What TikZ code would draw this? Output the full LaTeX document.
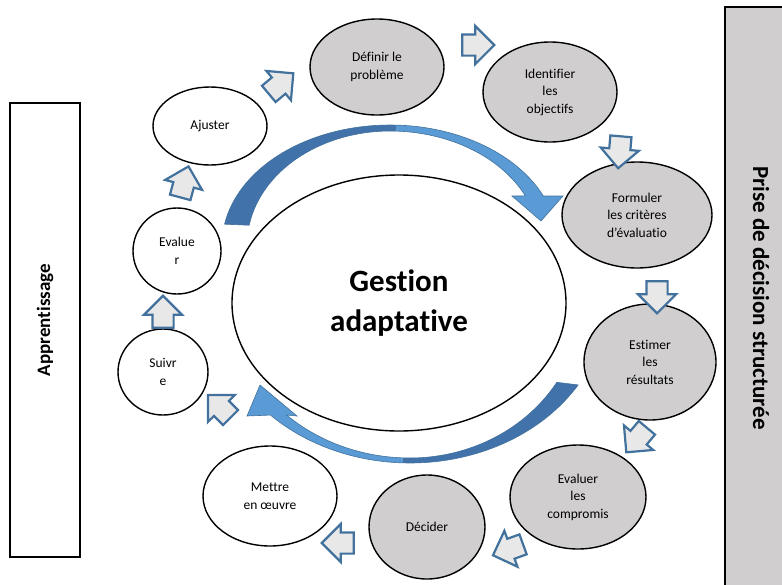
\documentclass[tikz,border=0pt]{standalone}
\usepackage{fontspec}
\setmainfont{Carlito}[Ligatures=CommonOff]
\usetikzlibrary{shapes.geometric,shapes.arrows}

\definecolor{grisclair}{RGB}{208,206,206}
\definecolor{grisfleche}{RGB}{232,232,232}
\definecolor{bleubord}{RGB}{65,113,156}
\definecolor{bleufonce}{RGB}{66,114,170}
\definecolor{bleuclair}{RGB}{91,155,213}

\tikzset{
  etape/.style={ellipse, draw=black, line width=1.4pt, fill=white, inner sep=0pt,
    align=center, font=\fontsize{13.5}{17.5}\selectfont},
  etapegrise/.style={etape, fill=grisclair},
  fleche/.style={single arrow, draw=bleubord, line width=2.2pt, fill=grisfleche,
    minimum height=32pt, inner xsep=0pt, inner ysep=9.5pt, single arrow head extend=8.5pt},
  bande/.style={draw=bleubord, line width=0.6pt}
}

\begin{document}
\begin{tikzpicture}[x=1pt, y=-1pt]
    \useasboundingbox (0,0) rectangle (782,584);
    \clip (0,0) rectangle (782,584);

    % Side boxes
    \draw[line width=1.4pt, fill=white] (10,103) rectangle (80,557);
    \node[rotate=90, font=\fontsize{19}{23}\selectfont\bfseries] (apprentissage) at (45,320) {Apprentissage};
    \draw[line width=1.4pt, fill=grisclair] (725,7) rectangle (800,600);
    \node[rotate=-90, font=\fontsize{23}{27}\selectfont\bfseries] (prise) at (761,298) {Prise de décision structurée};

    % Big curved arrows
    \fill[bleufonce, bande] plot[domain=170:88, samples=40] ({390+168*cos(\x)},{245-120*sin(\x)})
        -- plot[domain=88:170, samples=40] ({390+143*cos(\x)},{245-114*sin(\x)}) -- cycle;
    \fill[bleuclair, bande] plot[domain=88:24.1, samples=40] ({390+168*cos(\x)},{245-120*sin(\x)})
        -- (563,196) -- (541,221) -- (512,196)
        -- plot[domain=25.5:88, samples=40] ({390+150*cos(\x)},{245-114*sin(\x)}) -- cycle;
    \fill[bleufonce, bande] plot[domain=31.4:92, samples=40] ({410+197*cos(\x)},{300+163*sin(\x)})
        -- plot[domain=92:31.4, samples=40] ({410+172*cos(\x)},{300+158*sin(\x)}) -- cycle;
    \fill[bleuclair, bande] plot[domain=92:135.1, samples=40] ({410+197*cos(\x)},{300+163*sin(\x)})
        -- (247,416) -- (260,385) -- (297,416)
        -- plot[domain=133.3:92, samples=40] ({410+180*cos(\x)},{300+158*sin(\x)}) -- cycle;

    % Steps
    \node[etape, minimum width=334pt, minimum height=256pt, font=\fontsize{31}{40}\selectfont\bfseries]
        (gestion) at (399,303) {Gestion\\adaptative};
    \node[etapegrise, minimum width=134pt, minimum height=96pt] (definir) at (377,67) {Définir le\\problème};
    \node[etapegrise, minimum width=134pt, minimum height=100pt] (identifier) at (550,92) {Identifier\\les\\objectifs};
    \node[etapegrise, minimum width=150pt, minimum height=106pt] (formuler) at (637,215) {Formuler\\les critères\\d’évaluatio};
    \node[etapegrise, minimum width=132pt, minimum height=116pt] (estimer) at (650,362) {Estimer\\les\\résultats};
    \node[etapegrise, minimum width=136pt, minimum height=104pt] (compromis) at (578,497) {Evaluer\\les\\compromis};
    \node[etapegrise, minimum width=116pt, minimum height=104pt] (decider) at (427,527) {Décider};
    \node[etape, minimum width=134pt, minimum height=100pt] (mettre) at (270,496) {Mettre\\en œuvre};
    \node[etape, minimum width=90pt, minimum height=86pt] (suivre) at (163,372) {Suivr\\e};
    \node[etape, minimum width=88pt, minimum height=86pt] (evaluer) at (177,251) {Evalue\\r};
    \node[etape, minimum width=114pt, minimum height=78pt] (ajuster) at (210,126) {Ajuster};

    % Small arrows between steps
    \foreach \x/\y/\a [count=\i] in {473/45/0, 620/147/-95, 657/292/-90, 640/436/-130, 513/548/-160,
        343/543/180, 223/410/135, 163/317/90, 183/187/75, 277/87/40}
    \node[fleche, rotate=\a] (f\i) at (\x,\y) {};
\end{tikzpicture}
\end{document}
